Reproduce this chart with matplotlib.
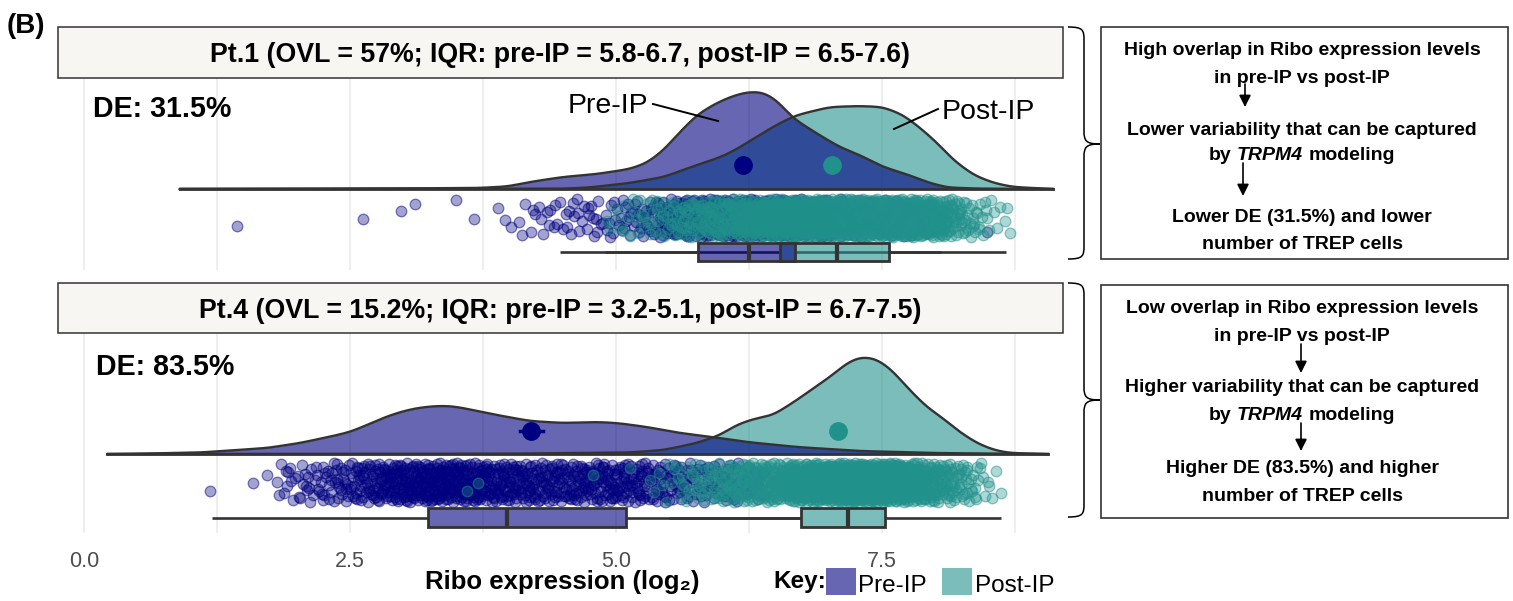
import numpy as np
import matplotlib
matplotlib.use("Agg")
import matplotlib.pyplot as plt
from matplotlib.patches import Rectangle, PathPatch, FancyArrowPatch
from matplotlib.path import Path
from matplotlib.lines import Line2D
from matplotlib.colors import to_rgba

plt.rcParams['font.family'] = ['Liberation Sans', 'DejaVu Sans']

# ---------------- data ----------------
group_names = ["Pre-IP", "Post-IP"]
panel_titles = ["Pt.1 (OVL = 57%; IQR: pre-IP = 5.8-6.7, post-IP = 6.5-7.6)",
                "Pt.4 (OVL = 15.2%; IQR: pre-IP = 3.2-5.1, post-IP = 6.7-7.5)"]
de_labels = ["DE: 31.5%", "DE: 83.5%"]
x_ticks = [0.0, 2.5, 5.0, 7.5]
x_tick_labels = ["0.0", "2.5", "5.0", "7.5"]
x_minor = [1.25, 3.75, 6.25, 8.75]
x_label = "Ribo expression (log\u2082)"

# density outlines: x (log2 expression) and relative density height
pt1_pre_x = [0.90, 2.00, 3.00, 3.70, 3.98, 4.19, 4.50, 4.82, 5.13, 5.29, 5.45, 5.60, 5.76, 5.91,
             6.07, 6.23, 6.38, 6.51, 6.66, 6.88, 7.10, 7.29, 7.51, 7.70, 7.92, 8.11, 8.40, 9.11]
pt1_pre_h = [0.2, 0.4, 0.6, 1.0, 2.5, 7, 12, 15, 20, 26, 39, 57, 74, 84,
             92, 97, 97, 89, 71, 56, 42, 34, 22, 16, 7, 1.5, 0.4, 0]
pt1_post_x = [0.90, 4.50, 4.75, 5.13, 5.45, 5.76, 5.91, 6.07, 6.23, 6.38, 6.54, 6.70, 7.01, 7.29,
              7.51, 7.70, 7.86, 8.02, 8.17, 8.36, 8.55, 8.73, 9.11]
pt1_post_h = [0, 0.3, 1.5, 6, 12, 24, 29, 36, 46, 56, 66, 74, 82, 83,
              82, 74, 61, 46, 29, 14, 6, 2, 0]
pt4_pre_x = [0.22, 0.60, 1.09, 1.40, 1.72, 2.03, 2.34, 2.50, 2.66, 2.81, 2.97, 3.13, 3.30, 3.45,
             3.56, 3.88, 4.19, 4.50, 4.82, 5.01, 5.29, 5.60, 5.91, 6.23, 6.70, 7.29, 8.00, 8.60, 9.06]
pt4_pre_h = [0, 0.5, 1.5, 3.7, 6, 11, 18, 22, 29, 36, 42, 46, 48, 48,
             46, 39, 33, 31, 32, 31, 27, 21, 17, 12, 7, 3, 1, 0.3, 0]
pt4_post_x = [0.22, 4.00, 5.13, 5.45, 5.76, 5.98, 6.13, 6.29, 6.48, 6.70, 6.86, 7.01, 7.17, 7.29,
              7.42, 7.51, 7.61, 7.76, 7.92, 8.07, 8.23, 8.39, 8.55, 8.70, 9.06]
pt4_post_h = [0, 0.3, 1.5, 4, 11, 19, 29, 35, 39, 54, 66, 77, 91, 97,
              96, 91, 82, 64, 47, 36, 22, 11, 4, 1, 0]

# group means and (pre, pt4) interval
pt1_means = [6.19, 7.03]
pt4_means = [4.20, 7.09]
pt4_pre_interval = [4.10, 4.31]

# boxplot stats: [whisker low, q1, median, q3, whisker high]
pt1_box_pre = [4.47, 5.77, 6.25, 6.68, 8.05]
pt1_box_post = [4.90, 6.54, 7.08, 7.57, 8.67]
pt4_box_pre = [1.20, 3.23, 3.98, 5.09, 6.74]
pt4_box_post = [5.50, 6.74, 7.18, 7.53, 8.62]

# cell points: range covered by the dense cloud, number of cells, sparse outliers
pt1_pre_pts_range, pt1_pre_n = [3.3, 8.5], 700
pt1_post_pts_range, pt1_post_n = [4.9, 8.72], 1300
pt4_pre_pts_range, pt4_pre_n = [1.8, 6.4], 850
pt4_post_pts_range, pt4_post_n = [5.3, 8.65], 1100
pt1_pre_outliers = [1.44, 2.62, 2.98, 3.11, 8.49]
pt1_post_outliers = []
pt4_pre_outliers = [1.18, 1.59, 1.72]
pt4_post_outliers = [3.60, 3.70, 4.78, 5.13]

box1_lines = ["High overlap in Ribo expression levels", "in pre-IP vs post-IP",
              "Lower variability that can be captured", ("by ", "TRPM4", " modeling"),
              "Lower DE (31.5%) and lower", "number of TREP cells"]
box2_lines = ["Low overlap in Ribo expression levels", "in pre-IP vs post-IP",
              "Higher variability that can be captured", ("by ", "TRPM4", " modeling"),
              "Higher DE (83.5%) and higher", "number of TREP cells"]

# ---------------- style / layout ----------------
W, H = 1513, 601
PRE_C = '#000080'
POST_C = '#21918C'
LINE_C = '#333333'
FILL_A = 0.6

fig = plt.figure(figsize=(W / 100, H / 100), dpi=100)
renderer = fig.canvas.get_renderer()


def fx(x):
    return x / W


def fy(y):
    return 1 - y / H


X0_PX, PX_PER_UNIT = 84.0, 106.4
AX_L, AX_R = 58, 1063
xlim = ((AX_L - X0_PX) / PX_PER_UNIT, (AX_R - X0_PX) / PX_PER_UNIT)

layout = [
    dict(top=78, bot=270, base=81, mean=105, pc=52, ps=19, bc=18, bh=9, htop=27, hbot=78,
         de=(93, 117)),
    dict(top=333, bot=533, base=79, mean=102, pc=50.5, ps=19.5, bc=15.5, bh=9.5, htop=283, hbot=333,
         de=(96, 375)),
]

panels = [
    dict(dens=[(pt1_pre_x, pt1_pre_h), (pt1_post_x, pt1_post_h)], means=pt1_means, interval=None,
         boxes=[pt1_box_pre, pt1_box_post],
         pts=[(pt1_pre_pts_range, pt1_pre_n, pt1_pre_outliers),
              (pt1_post_pts_range, pt1_post_n, pt1_post_outliers)]),
    dict(dens=[(pt4_pre_x, pt4_pre_h), (pt4_post_x, pt4_post_h)], means=pt4_means,
         interval=pt4_pre_interval, boxes=[pt4_box_pre, pt4_box_post],
         pts=[(pt4_pre_pts_range, pt4_pre_n, pt4_pre_outliers),
              (pt4_post_pts_range, pt4_post_n, pt4_post_outliers)]),
]
colors = [PRE_C, POST_C]


def halton(n, base, start=1):
    out = np.empty(n)
    for k in range(n):
        i = k + start
        f, r = 1.0, 0.0
        while i > 0:
            f /= base
            r += f * (i % base)
            i //= base
        out[k] = r
    return out


def smooth(grid, xs, hs, sig=0.06):
    d = np.interp(grid, xs, hs)
    dx = grid[1] - grid[0]
    m = int(4 * sig / dx)
    k = np.arange(-m, m + 1) * dx
    ker = np.exp(-0.5 * (k / sig) ** 2)
    ker /= ker.sum()
    pad = np.pad(d, m, mode='edge')
    return np.convolve(pad, ker, mode='valid')


for pi, (p, L) in enumerate(zip(panels, layout)):
    hgt = L['bot'] - L['top']
    ax = fig.add_axes([fx(AX_L), fy(L['bot']), fx(AX_R) - fx(AX_L), hgt / H])
    ax.set_xlim(*xlim)
    ax.set_ylim(0, hgt)
    for s in ax.spines.values():
        s.set_visible(False)
    ax.set_yticks([])
    for v in x_ticks + x_minor:
        ax.axvline(v, color='#EBEBEB', lw=1.2, zorder=0)
    if pi == 1:
        ax.set_xticks(x_ticks, x_tick_labels)
        ax.tick_params(axis='x', length=0, labelsize=15.5, labelcolor='#4D4D4D', pad=13)
    else:
        ax.set_xticks([])

    # densities (post first, pre on top)
    xs_all = np.concatenate([p['dens'][0][0], p['dens'][1][0]])
    grid = np.linspace(xs_all.min(), xs_all.max(), 900)
    dens = [smooth(grid, np.array(x), np.array(h)) for x, h in p['dens']]
    base = L['base']
    for gi in [1, 0]:
        ax.fill_between(grid, base, base + dens[gi], color=colors[gi], alpha=FILL_A, lw=0, zorder=2)
    for gi in [1, 0]:
        ax.plot(np.r_[grid[0], grid, grid[-1]], np.r_[base, base + dens[gi], base],
                color=LINE_C, lw=1.7, zorder=2.5, solid_joinstyle='round')
    ax.plot([grid[0], grid[-1]], [base, base], color=LINE_C, lw=2.0, zorder=2.6)

    # means
    if p['interval'] is not None:
        ax.plot(p['interval'], [L['mean'], L['mean']], color=PRE_C, lw=2.5, zorder=4)
    for gi in [0, 1]:
        ax.plot([p['means'][gi]], [L['mean']], 'o', ms=12.5, color=colors[gi], mec=colors[gi], zorder=4)

    # points
    for gi in [0, 1]:
        (lo, hi), n, outl = p['pts'][gi]
        m = (grid >= lo) & (grid <= hi)
        g, d = grid[m], dens[gi][m]
        cdf = np.cumsum(d)
        cdf = (cdf - cdf[0]) / (cdf[-1] - cdf[0])
        st = 11 + 3000 * gi + 7000 * pi
        u = halton(n, 2, st)
        v = halton(n, 3, st)
        px = np.interp(u, cdf, g)
        py = L['pc'] + L['ps'] * (2 * v - 1)
        if len(outl):
            vo = halton(len(outl), 5, st)
            px = np.r_[px, outl]
            py = np.r_[py, L['pc'] + L['ps'] * (2 * vo - 1)]
        ax.scatter(px, py, s=58, facecolor=to_rgba(colors[gi], 0.36),
                   edgecolor=to_rgba(colors[gi], 0.5), lw=0.9, zorder=3)

    # boxplots: whiskers first, then boxes (post, then pre on top)
    bc, bh = L['bc'], L['bh']
    for gi in [1, 0]:
        wl, q1, med, q3, wh = p['boxes'][gi]
        ax.plot([wl, q1], [bc, bc], color=LINE_C, lw=1.9, zorder=3.2, solid_capstyle='butt')
        ax.plot([q3, wh], [bc, bc], color=LINE_C, lw=1.9, zorder=3.2, solid_capstyle='butt')
    for gi in [1, 0]:
        wl, q1, med, q3, wh = p['boxes'][gi]
        ax.add_patch(Rectangle((q1, bc - bh), q3 - q1, 2 * bh, facecolor=colors[gi], alpha=FILL_A,
                               lw=0, zorder=3.3))
    for gi in [1, 0]:
        wl, q1, med, q3, wh = p['boxes'][gi]
        ax.add_patch(Rectangle((q1, bc - bh), q3 - q1, 2 * bh, facecolor='none', edgecolor=LINE_C,
                               lw=2.0, zorder=3.4))
        ax.plot([med, med], [bc - bh, bc + bh], color=LINE_C, lw=3.0, zorder=3.5, solid_capstyle='butt')

    # header strip
    fig.add_artist(Rectangle((fx(AX_L), fy(L['hbot'])), fx(AX_R) - fx(AX_L), (L['hbot'] - L['htop']) / H,
                             transform=fig.transFigure, facecolor='#F7F6F2', edgecolor=LINE_C, lw=1.1))
    fig.text(fx((AX_L + AX_R) / 2), fy(L['htop'] + 35.5), panel_titles[pi], fontsize=19.3,
             weight='bold', ha='center', va='baseline')
    fig.text(fx(L['de'][0]), fy(L['de'][1]), de_labels[pi], fontsize=20.6, weight='bold',
             ha='left', va='baseline')

# panel letter
fig.text(fx(7), fy(33), "(B)", fontsize=20, weight='bold', ha='left', va='baseline')

# Pre-IP / Post-IP labels with leaders
fig.text(fx(568), fy(113), "Pre-IP", fontsize=20.5, ha='left', va='baseline')
fig.text(fx(942), fy(119), "Post-IP", fontsize=20.5, ha='left', va='baseline')
fig.add_artist(Line2D([fx(653), fx(718)], [fy(104), fy(121)], transform=fig.transFigure, color='black', lw=1.4))
fig.add_artist(Line2D([fx(938), fx(894)], [fy(109), fy(129)], transform=fig.transFigure, color='black', lw=1.4))

# x label
fig.text(fx(562), fy(589), x_label, fontsize=18.5, weight='bold', ha='center', va='baseline')

# key
fig.text(fx(773), fy(588), "Key:", fontsize=17.5, weight='bold', ha='left', va='baseline')
for gi, (x0, tx) in enumerate([(826, 858), (942, 975)]):
    fig.add_artist(Rectangle((fx(x0), fy(595)), 30 / W, 27 / H, transform=fig.transFigure,
                             facecolor=colors[gi], alpha=FILL_A, lw=0))
    fig.text(fx(tx), fy(592), group_names[gi], fontsize=17.5, ha='left', va='baseline')


# braces
def brace(xl, xm, xt, yt, ytip, yb, r=13):
    P = [(xl, yt), (xm - 1, yt), (xm, yt + 3), (xm, yt + r),
         (xm, ytip - r), (xm, ytip - 3), (xm + 2, ytip), (xt, ytip),
         (xm + 2, ytip), (xm, ytip + 3), (xm, ytip + r),
         (xm, yb - r), (xm, yb - 3), (xm - 1, yb), (xl, yb)]
    C = [Path.MOVETO, Path.CURVE4, Path.CURVE4, Path.CURVE4,
         Path.LINETO, Path.CURVE4, Path.CURVE4, Path.CURVE4,
         Path.CURVE4, Path.CURVE4, Path.CURVE4,
         Path.LINETO, Path.CURVE4, Path.CURVE4, Path.CURVE4]
    verts = [(fx(a), fy(b)) for a, b in P]
    fig.add_artist(PathPatch(Path(verts, C), transform=fig.transFigure, fill=False,
                             edgecolor='black', lw=1.1))


brace(1068, 1084, 1100, 27, 144, 259)
brace(1068, 1084, 1100, 283, 400, 517)

# text boxes
fig.add_artist(Rectangle((fx(1101), fy(259)), 407 / W, 232 / H, transform=fig.transFigure,
                         fill=False, edgecolor=LINE_C, lw=1.2))
fig.add_artist(Rectangle((fx(1101), fy(518)), 407 / W, 233 / H, transform=fig.transFigure,
                         fill=False, edgecolor=LINE_C, lw=1.2))

BOX_FS = 14
XC = 1302


def measure(txt, style='normal'):
    t = fig.text(0, 0, txt, fontsize=BOX_FS, weight='bold', style=style)
    w = t.get_window_extent(renderer).width
    t.remove()
    return w


def rich_line(parts, xc, yb):
    words = [s.strip() for s in parts]
    styles = ['normal', 'italic', 'normal']
    sp = measure("a a") - measure("aa")
    ws = [measure(wd, st) for wd, st in zip(words, styles)]
    total = sum(ws) + sp * (len(ws) - 1)
    x = xc - total / 2
    for wd, st, w in zip(words, styles, ws):
        fig.text(fx(x), fy(yb), wd, fontsize=BOX_FS, weight='bold', style=st, ha='left', va='baseline')
        x += w + sp


def draw_box_text(lines, baselines, arrows):
    for ln, yb in zip(lines, baselines):
        if isinstance(ln, tuple):
            rich_line(ln, XC, yb)
        else:
            fig.text(fx(XC), fy(yb), ln, fontsize=BOX_FS, weight='bold', ha='center', va='baseline')
    for (xa, y0, y1) in arrows:
        fig.add_artist(FancyArrowPatch((fx(xa), fy(y0)), (fx(xa), fy(y1)), transform=fig.transFigure,
                                       arrowstyle='-|>,head_length=0.7,head_width=0.35',
                                       mutation_scale=10, color='black', lw=1.2,
                                       shrinkA=0, shrinkB=0))


draw_box_text(box1_lines, [55, 83, 135, 159.5, 222.5, 249], [(1245, 84, 107), (1243, 163, 196)])
draw_box_text(box2_lines, [313.3, 340.7, 392.3, 420, 472.7, 501], [(1301, 344, 373), (1301, 423, 451)])

fig.savefig("out.png", dpi=100, facecolor='white')
